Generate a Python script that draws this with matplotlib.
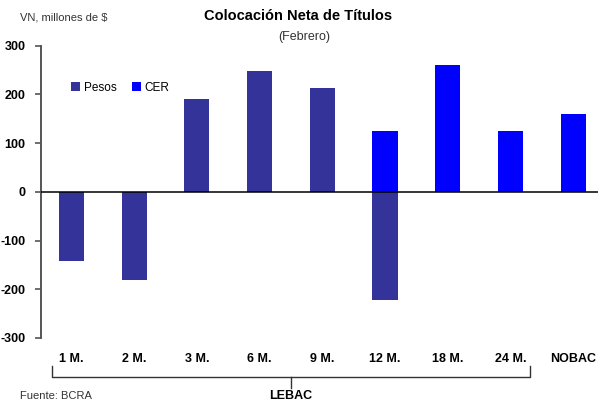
import matplotlib
matplotlib.use("Agg")
import matplotlib.pyplot as plt
from matplotlib.patches import Patch
from matplotlib.transforms import blended_transform_factory

plt.rcParams['font.family'] = ['Liberation Sans', 'DejaVu Sans']

categories = ["1 M.", "2 M.", "3 M.", "6 M.", "9 M.", "12 M.", "18 M.", "24 M.", "NOBAC"]
pesos = [-142, -180, 190, 247, 213, -222, 0, 0, 0]
cer = [0, 0, 0, 0, 0, 124, 260, 124, 159]
yticks = [300, 200, 100, 0, -100, -200, -300]

c_pesos = "#333399"
c_cer = "#0000FF"

W, H = 598, 407
fig = plt.figure(figsize=(W / 100, H / 100), dpi=100)

def fy(py):
    return (H - py) / H

ax = fig.add_axes([41 / W, fy(338), (W - 41) / W, (338 - 45.5) / H])
x = list(range(len(categories)))
ax.bar(x, pesos, width=0.4, color=c_pesos, zorder=2)
ax.bar(x, cer, width=0.4, color=c_cer, zorder=2)
ax.axhline(0, color="black", lw=1.1, zorder=3)

ax.set_xlim(-0.486, 8.397)
ax.set_ylim(-300, 300)
ax.set_yticks(yticks)
ax.set_yticklabels([str(v) for v in yticks], fontsize=9, fontweight="bold")
ax.tick_params(axis="y", direction="out", length=4, width=1.2, color="#555555", pad=7)
ax.set_xticks(x)
ax.set_xticklabels(categories, fontsize=9, fontweight="bold")
ax.tick_params(axis="x", length=0, pad=11)
for s in ["top", "right", "bottom"]:
    ax.spines[s].set_visible(False)
ax.spines["left"].set_color("#555555")
ax.spines["left"].set_linewidth(1.4)

# LEBAC bracket under the first eight categories
tr = blended_transform_factory(ax.transData, fig.transFigure)
xl, xr, xc = -0.31, 7.31, 3.5
ybar = fy(377)
ax.plot([xl, xl, xr, xr], [fy(366), ybar, ybar, fy(366)], color="#333333", lw=1,
        transform=tr, clip_on=False)
ax.plot([xc, xc], [ybar, fy(388)], color="#333333", lw=1, transform=tr, clip_on=False)
ax.text(xc, fy(396), "LEBAC", transform=tr, ha="center", va="center",
        fontsize=9, fontweight="bold")

fig.text(20 / W, fy(396), "Fuente: BCRA", fontsize=8, color="#333333", va="center")
fig.text(20 / W, fy(18), "VN, millones de $", fontsize=8, color="#333333", va="center")
fig.text(298 / W, fy(16), "Colocación Neta de Títulos", fontsize=10.5, fontweight="bold",
         ha="center", va="center")
fig.text(304 / W, fy(37), "(Febrero)", fontsize=9, color="#333333", ha="center", va="center")

handles = [Patch(facecolor=c_pesos), Patch(facecolor=c_cer)]
ax.legend(handles, ["Pesos", "CER"], loc="upper left", bbox_to_anchor=(60 / W, fy(71)),
          bbox_transform=fig.transFigure, ncol=2, frameon=False, fontsize=8.5,
          handlelength=0.8, handleheight=0.8, handletextpad=0.3, columnspacing=1.3)

fig.savefig("out.png", dpi=100)
